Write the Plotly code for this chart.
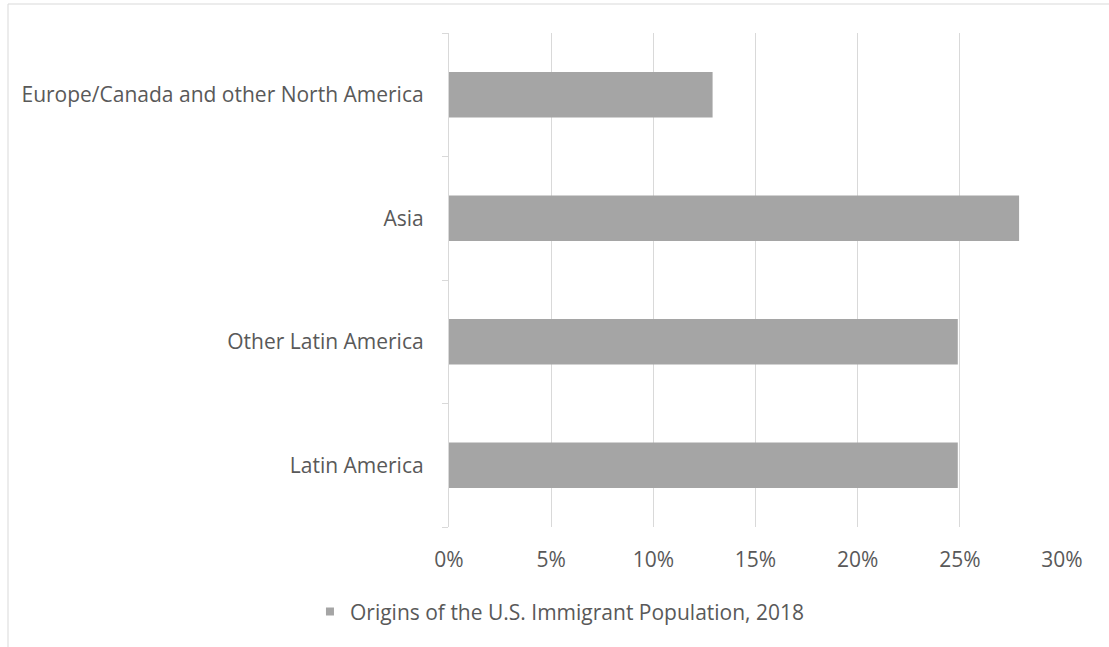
import plotly.graph_objects as go

# Origins of the U.S. immigrant population, 2018 (share of total)
regions = ["Latin America", "Other Latin America", "Asia",
           "Europe/Canada and other North America"]
shares = [0.249, 0.249, 0.279, 0.129]
series_name = "Origins of the U.S. Immigrant Population, 2018"
x_ticks = [0, 0.05, 0.10, 0.15, 0.20, 0.25, 0.30]
x_tick_labels = ["0%", "5%", "10%", "15%", "20%", "25%", "30%"]

FONT = "Open Sans"
SIZE = 21
TEXT = "#595959"
GRID = "#d9d9d9"
BAR = "#a5a5a5"

fig = go.Figure()
fig.add_trace(go.Bar(
    y=list(range(len(regions))),
    x=shares,
    orientation="h",
    name=series_name,
    marker=dict(color=BAR, line=dict(width=0)),
    width=0.37,
    showlegend=False,
))
# legend entry with a small square key, as in the spreadsheet style
fig.add_trace(go.Scatter(
    x=[None], y=[None], mode="markers", name=series_name,
    marker=dict(symbol="square", size=8, color=BAR),
    showlegend=True, hoverinfo="skip",
))
# helper on a second y axis that carries the category-boundary ticks
fig.add_trace(go.Scatter(
    x=[None], y=[None], yaxis="y2", showlegend=False, hoverinfo="skip",
))

fig.update_layout(
    width=1109, height=647,
    margin=dict(l=449, r=47, t=33, b=120),
    paper_bgcolor="white", plot_bgcolor="white",
    font=dict(family=FONT, size=SIZE, color=TEXT),
    xaxis=dict(
        range=[0, 0.30], tickvals=x_ticks, ticktext=x_tick_labels,
        showgrid=True, gridcolor=GRID, gridwidth=1.3,
        zeroline=False, showline=False, ticks="",
        tickfont=dict(family=FONT, size=SIZE, color=TEXT),
        ticklabelstandoff=18,
    ),
    yaxis=dict(
        range=[-0.5, len(regions) - 0.5],
        tickvals=list(range(len(regions))), ticktext=regions,
        showgrid=False, zeroline=False,
        showline=True, linecolor=GRID, linewidth=1.3,
        ticks="", ticklabelstandoff=20,
        tickfont=dict(family=FONT, size=SIZE, color=TEXT),
    ),
    yaxis2=dict(
        overlaying="y", side="left", anchor="x",
        range=[-0.5, len(regions) - 0.5],
        tickvals=[i - 0.5 for i in range(len(regions) + 1)],
        showticklabels=False, ticks="outside", ticklen=6,
        tickcolor=GRID, tickwidth=1.3,
        showgrid=False, zeroline=False, showline=False,
    ),
    legend=dict(
        orientation="h", x=-0.2268, xanchor="left",
        y=-0.172, yanchor="middle",
        font=dict(family=FONT, size=SIZE, color=TEXT),
        itemwidth=30,
    ),
    shapes=[dict(
        type="rect", xref="paper", yref="paper",
        x0=-441 / 613, x1=1.2, y0=-0.4, y1=1 + 29 / 494,
        line=dict(color=GRID, width=1), fillcolor="rgba(0,0,0,0)",
        layer="below",
    )],
)

fig.write_html("out.html")
